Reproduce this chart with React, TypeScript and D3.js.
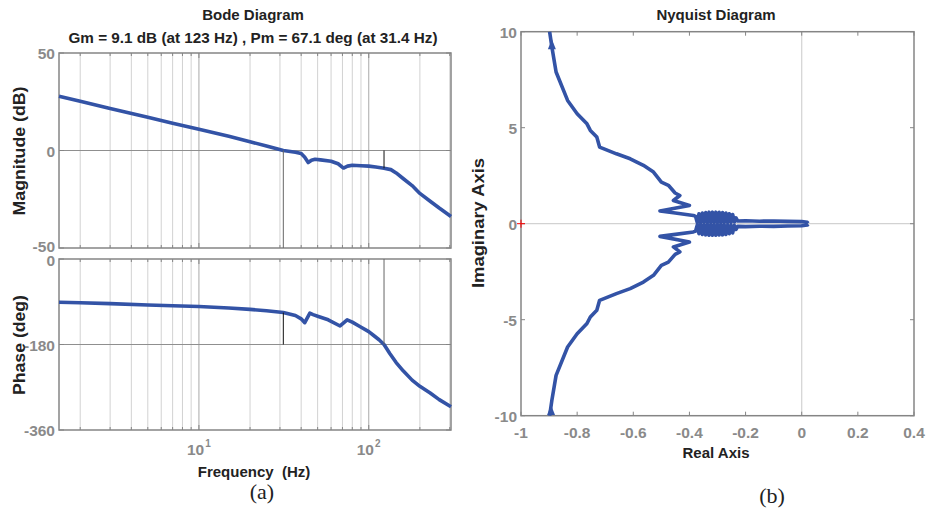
import React from 'react';
import * as d3 from 'd3';

// bode data
const magFreq = [1.5, 2, 3, 5, 7, 10, 15, 20, 25, 31.4, 37, 40, 42, 44, 46, 48.3, 52, 60, 66, 71, 75, 80, 90, 100, 110, 123, 135, 145, 160, 180, 200, 230, 260, 305];
const magDb = [27.8, 25.2, 21.6, 17.0, 14.0, 10.9, 7.3, 4.5, 2.3, 0, -0.9, -1.6, -3.5, -6.2, -5.0, -4.5, -4.8, -5.5, -6.8, -9.0, -8.0, -7.6, -7.8, -8.0, -8.5, -9.1, -9.8, -11.5, -14.5, -18, -22, -26, -29.5, -33.8];

const phaseFreq = [1.5, 2, 3, 5, 7, 10, 15, 20, 25, 31.4, 37, 40, 42, 45, 47, 50.5, 57.7, 67.8, 74.6, 80, 88.6, 100, 106, 115, 123, 133, 145, 160, 180, 200, 230, 260, 305];
const phaseDeg = [-91, -92, -94, -97, -98.5, -100, -103, -106, -109, -112.5, -119, -126, -134, -114, -117, -121, -128, -141, -128, -133, -142, -153, -160, -170, -180, -199, -218, -236, -255, -268, -282, -296, -311];

// nyquist, positive frequency branch (negative branch is its conjugate)
const nyqRe = [-0.898, -0.89, -0.875, -0.834, -0.8, -0.765, -0.753, -0.73, -0.72, -0.66, -0.611, -0.564, -0.528, -0.5, -0.475, -0.451, -0.434, -0.457, -0.4, -0.505, -0.457, -0.386,
  -0.378, -0.372, -0.366, -0.36, -0.354, -0.348, -0.342, -0.336, -0.33, -0.324, -0.318, -0.312, -0.306, -0.3, -0.294, -0.288, -0.282, -0.276, -0.27, -0.264, -0.258, -0.252, -0.246, -0.24, -0.234,
  -0.228, -0.2, -0.15, -0.1, -0.05, 0.0, 0.02, 0.023];
const nyqIm = [10, 9.2, 7.9, 6.42, 5.73, 5.2, 4.86, 4.51, 3.99, 3.64, 3.38, 3.04, 2.69, 2.17, 2.0, 1.6, 1.47, 1.21, 0.95, 0.66, 0.57, 0.43,
  0.38, 0.06, 0.52, 0.05, 0.56, 0.06, 0.58, 0.05, 0.6, 0.06, 0.6, 0.05, 0.6, 0.06, 0.59, 0.05, 0.58, 0.06, 0.56, 0.07, 0.52, 0.07, 0.48, 0.09, 0.3,
  0.14, 0.15, 0.13, 0.14, 0.12, 0.11, 0.07, 0.02];

const magTicks = [50, 0, -50];
const phaseTicks = [0, -180, -360];
const freqDecades = [10, 100];
const reTicks = [-1, -0.8, -0.6, -0.4, -0.2, 0, 0.2, 0.4];
const imTicks = [-10, -5, 0, 5, 10];
const gm = { freq: 123, db: -9.1 };
const pm = { freq: 31.4, deg: -112.9 };

const BLUE = '#3353a6';
const FRAME = '#858585';
const GRID = '#d2d2d2';
const TICKTXT = '#8a8a8a';
const FONT = '"Liberation Sans", Arial, Helvetica, sans-serif';

const x = d3.scaleLog().domain([1.5, 305]).range([59, 451]);
const yMag = d3.scaleLinear().domain([-50, 50]).range([248, 53]);
const yPh = d3.scaleLinear().domain([-360, 0]).range([430, 259]);
const xN = d3.scaleLinear().domain([-1, 0.4]).range([521, 914]);
const yN = d3.scaleLinear().domain([-10, 10]).range([415.7, 31.7]);

function BodePanel({ y, ticks, freq, vals, ref, nudge }: any) {
  const [y0, y1] = y.range();
  const [x0, x1] = x.range();
  const line = d3.line<number>().x((_, i) => x(freq[i])).y(d => y(d));
  const grid = x.ticks();
  return (
    <g>
      {grid.map(f => {
        const major = freqDecades.includes(f);
        return (
          <g key={f}>
            <line x1={x(f)} x2={x(f)} y1={y1} y2={y0} stroke={major ? '#a8a8a8' : GRID} strokeWidth={1} />
            <line x1={x(f)} x2={x(f)} y1={y0} y2={y0 - (major ? 5 : 3)} stroke={FRAME} />
            <line x1={x(f)} x2={x(f)} y1={y1} y2={y1 + (major ? 5 : 3)} stroke={FRAME} />
          </g>
        );
      })}
      <line x1={x0} x2={x1} y1={y(ref)} y2={y(ref)} stroke="#8f8f8f" strokeWidth={1.2} />
      {ticks.map((t: number, i: number) => (
        <g key={t}>
          <line x1={x0} x2={x0 + 5} y1={y(t)} y2={y(t)} stroke={FRAME} />
          <line x1={x1} x2={x1 - 5} y1={y(t)} y2={y(t)} stroke={FRAME} />
          <text x={x0 - 4} y={y(t) + 6 + (nudge ? nudge[i] : 0)} textAnchor="end" fontSize={15.5} fontWeight="bold" fill={TICKTXT}>{t}</text>
        </g>
      ))}
      <rect x={x0} y={y1} width={x1 - x0} height={y0 - y1} fill="none" stroke={FRAME} strokeWidth={1.5} />
      <path d={line(vals) || ''} fill="none" stroke={BLUE} strokeWidth={3.6} strokeLinejoin="round" />
    </g>
  );
}

function Nyquist() {
  const [x0, x1] = xN.range();
  const [y0, y1] = yN.range();
  const upper = d3.line<number>().x(d => xN(d)).y((_, i) => yN(nyqIm[i]));
  const lower = d3.line<number>().x(d => xN(d)).y((_, i) => yN(-nyqIm[i]));
  const tri = (cx: number, cy: number) => `M${cx},${cy - 6}L${cx - 4},${cy + 4}L${cx + 4},${cy + 4}Z`;
  return (
    <g>
      <line x1={xN(0)} x2={xN(0)} y1={y1} y2={y0} stroke={GRID} strokeWidth={1.2} />
      <line x1={x0} x2={x1} y1={yN(0)} y2={yN(0)} stroke={GRID} strokeWidth={1.2} />
      {reTicks.map(t => (
        <g key={t}>
          <line x1={xN(t)} x2={xN(t)} y1={y0} y2={y0 - 4} stroke={FRAME} />
          <line x1={xN(t)} x2={xN(t)} y1={y1} y2={y1 + 4} stroke={FRAME} />
          <text x={xN(t)} y={438} textAnchor="middle" fontSize={15.5} fontWeight="bold" fill={TICKTXT}>{t}</text>
        </g>
      ))}
      {imTicks.map(t => (
        <g key={t}>
          <line x1={x0} x2={x0 + 4} y1={yN(t)} y2={yN(t)} stroke={FRAME} />
          <line x1={x1} x2={x1 - 4} y1={yN(t)} y2={yN(t)} stroke={FRAME} />
          <text x={517} y={yN(t) + 6} textAnchor="end" fontSize={15.5} fontWeight="bold" fill={TICKTXT}>{t}</text>
        </g>
      ))}
      <rect x={x0} y={y1} width={x1 - x0} height={y0 - y1} fill="none" stroke={FRAME} strokeWidth={1.5} />
      <path d={upper(nyqRe) || ''} fill="none" stroke={BLUE} strokeWidth={3.6} strokeLinejoin="round" />
      <path d={lower(nyqRe) || ''} fill="none" stroke={BLUE} strokeWidth={3.6} strokeLinejoin="round" />
      <path d={tri(xN(-0.89), yN(9.3))} fill={BLUE} />
      <path d={tri(xN(-0.893), yN(-9.75))} fill={BLUE} />
      <path d={`M${xN(-1) - 4},${yN(0)}H${xN(-1) + 4}M${xN(-1)},${yN(0) - 4}V${yN(0) + 4}`} stroke="red" strokeWidth={1} />
    </g>
  );
}

export default function App() {
  return (
    <svg width={926} height={517} style={{ position: 'absolute', left: 0, top: 0, background: '#fff' }} fontFamily={FONT}>
      <rect width={926} height={517} fill="#fff" />
      <text x={253} y={20} textAnchor="middle" fontSize={15} fontWeight="bold" fill="#222">Bode Diagram</text>
      <text x={253} y={43} textAnchor="middle" fontSize={15.5} fontWeight="bold" fill="#222" textLength={369} lengthAdjust="spacingAndGlyphs">Gm = 9.1 dB (at 123 Hz) ,  Pm = 67.1 deg (at 31.4 Hz)</text>

      <BodePanel y={yMag} ticks={magTicks} freq={magFreq} vals={magDb} ref={0} nudge={[0, 0, -2]} />
      <BodePanel y={yPh} ticks={phaseTicks} freq={phaseFreq} vals={phaseDeg} ref={-180} nudge={[1, 0, 0]} />

      {/* margin markers */}
      <line x1={x(pm.freq)} x2={x(pm.freq)} y1={yMag(-50)} y2={yMag(0)} stroke="#666" />
      <line x1={x(gm.freq)} x2={x(gm.freq)} y1={yMag(0)} y2={yMag(gm.db)} stroke="#111" />
      <line x1={x(gm.freq)} x2={x(gm.freq)} y1={yPh(0)} y2={yPh(-180)} stroke="#666" />
      <line x1={x(pm.freq)} x2={x(pm.freq)} y1={yPh(-180)} y2={yPh(pm.deg)} stroke="#111" />

      {freqDecades.map((f, i) => (
        <text key={f} y={455} fontSize={15.5} fontWeight="bold" fill={TICKTXT}>
          <tspan x={x(f) - 12}>10</tspan>
          <tspan dx={1} dy={-8} fontSize={10}>{i + 1}</tspan>
        </text>
      ))}
      <text x={254} y={477} textAnchor="middle" fontSize={15} fontWeight="bold" fill="#222" style={{ whiteSpace: 'pre' }}>Frequency  (Hz)</text>
      <text transform="translate(25,151) rotate(-90)" textAnchor="middle" fontSize={16} fontWeight="bold" fill="#222" textLength={129} lengthAdjust="spacingAndGlyphs">Magnitude (dB)</text>
      <text transform="translate(25,345) rotate(-90)" textAnchor="middle" fontSize={16} fontWeight="bold" fill="#222" textLength={100} lengthAdjust="spacingAndGlyphs">Phase (deg)</text>
      <text x={262} y={499} textAnchor="middle" fontSize={22} fontFamily='"Liberation Serif", "DejaVu Serif", serif' fill="#222">(a)</text>

      <Nyquist />
      <text x={716} y={20} textAnchor="middle" fontSize={15} fontWeight="bold" fill="#222">Nyquist Diagram</text>
      <text x={716} y={458} textAnchor="middle" fontSize={15} fontWeight="bold" fill="#222">Real Axis</text>
      <text transform="translate(484,223) rotate(-90)" textAnchor="middle" fontSize={16} fontWeight="bold" fill="#222" textLength={130} lengthAdjust="spacingAndGlyphs">Imaginary Axis</text>
      <text x={772} y={503} textAnchor="middle" fontSize={22} fontFamily='"Liberation Serif", "DejaVu Serif", serif' fill="#222">(b)</text>
    </svg>
  );
}
